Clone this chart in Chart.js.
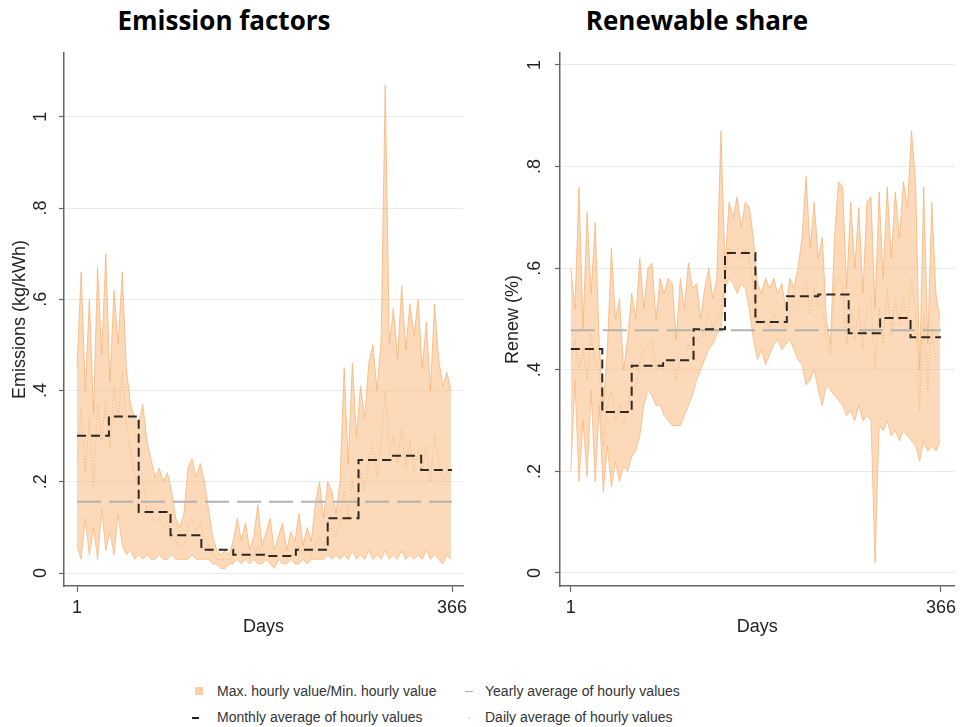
<!DOCTYPE html>
<html>
<head>
<meta charset="utf-8">
<script src="https://cdn.jsdelivr.net/npm/chart.js@4.4.1/dist/chart.umd.min.js"></script>
<style>
  body { margin:0; background:#fff; }
  #wrap { position:relative; width:961px; height:727px; overflow:hidden; font-family:"Liberation Sans", Arial, sans-serif; }
  .ttl { position:absolute; top:7px; width:400px; text-align:center; font:bold 26px/26px "Open Sans", sans-serif; color:#000; }
  canvas { position:absolute; top:40px; }
  .lg { position:absolute; font-size:14px; color:#333; white-space:nowrap; line-height:16px; }
  .mk { position:absolute; }
</style>
</head>
<body>
<div id="wrap">
  <div class="ttl" style="left:24px;">Emission factors</div>
  <div class="ttl" style="left:497px;">Renewable share</div>
  <canvas id="emisChart" width="480" height="610" style="left:0;"></canvas>
  <canvas id="renewChart" width="481" height="610" style="left:480px;"></canvas>

  <div class="mk" style="left:195px;top:687px;width:8px;height:8px;background:#fbcfa6;"></div>
  <div class="lg" style="left:217px;top:683px;">Max. hourly value/Min. hourly value</div>
  <div class="mk" style="left:465px;top:691px;width:8px;height:1px;background:#aaa;"></div>
  <div class="lg" style="left:485px;top:683px;">Yearly average of hourly values</div>
  <div class="mk" style="left:192px;top:717px;width:7px;height:2px;background:#222;"></div>
  <div class="lg" style="left:217px;top:709px;">Monthly average of hourly values</div>
  <div class="mk" style="left:468px;top:717px;width:2px;height:2px;background:#f6dcc4;"></div>
  <div class="lg" style="left:485px;top:709px;">Daily average of hourly values</div>
</div>

<script>
// ── Data ─────────────────────────────────────────────
const DAYS = [1,5,9,13,17,21,25,29,33,37,41,45,49,53,57,61,65,69,73,77,81,85,89,93,97,101,105,109,113,117,121,125,129,133,137,141,145,149,153,157,161,165,169,173,177,181,185,189,193,197,201,205,209,213,217,221,225,229,233,237,241,245,249,253,257,261,265,269,273,277,281,285,289,293,297,301,305,309,313,317,321,325,329,333,337,341,345,349,353,357,361,365];

const EMIS_MAX = [0.45,0.66,0.40,0.60,0.35,0.67,0.48,0.70,0.42,0.62,0.50,0.66,
  0.45,0.37,0.34,0.33,0.37,0.29,0.25,0.21,0.23,0.20,0.22,
  0.18,0.12,0.10,0.13,0.23,0.25,0.21,0.24,0.20,0.14,0.08,
  0.05,0.04,0.05,0.04,0.07,0.12,0.07,0.11,0.05,0.08,0.15,0.06,
  0.09,0.12,0.05,0.08,0.11,0.05,0.09,0.07,0.13,0.06,0.10,0.07,
  0.15,0.20,0.12,0.20,0.18,0.13,0.20,0.45,0.24,0.46,0.30,
  0.41,0.34,0.46,0.50,0.40,0.51,1.07,0.50,0.58,0.47,0.63,
  0.49,0.59,0.52,0.60,0.45,0.55,0.40,0.59,0.47,0.41,0.44,0.40];
const EMIS_MIN = [0.06,0.03,0.12,0.04,0.10,0.03,0.14,0.05,0.09,0.04,0.13,0.06,
  0.04,0.05,0.03,0.04,0.03,0.04,0.03,0.03,0.04,0.03,0.03,
  0.04,0.03,0.03,0.03,0.03,0.04,0.03,0.03,0.03,0.03,0.02,
  0.02,0.01,0.01,0.02,0.02,0.03,0.02,0.03,0.02,0.03,0.02,0.02,
  0.03,0.02,0.01,0.03,0.02,0.02,0.03,0.02,0.02,0.03,0.02,0.03,
  0.03,0.03,0.03,0.04,0.03,0.04,0.03,0.04,0.03,0.05,0.03,
  0.04,0.03,0.05,0.03,0.04,0.03,0.05,0.03,0.04,0.03,0.05,
  0.03,0.04,0.03,0.04,0.03,0.05,0.03,0.04,0.03,0.02,0.04,0.03];
const EMIS_DAILY = [0.24,0.36,0.22,0.34,0.19,0.37,0.29,0.38,
  0.27,0.41,0.34,0.44,0.33,0.26,0.22,
  0.19,0.20,0.14,0.13,0.11,0.12,0.10,0.11,
  0.09,0.07,0.06,0.06,0.10,0.12,0.09,0.11,
  0.08,0.06,0.04,0.03,0.03,0.03,0.03,
  0.04,0.05,0.04,0.05,0.03,0.04,0.06,0.03,
  0.04,0.05,0.03,0.04,0.05,0.03,0.04,0.04,
  0.06,0.04,0.05,0.04,0.06,0.08,0.06,
  0.09,0.10,0.08,0.11,0.18,0.12,0.20,0.14,
  0.22,0.18,0.25,0.28,0.21,0.29,0.40,0.26,
  0.30,0.24,0.32,0.23,0.29,0.22,0.27,
  0.22,0.28,0.20,0.30,0.24,0.20,0.22,0.21];

const RENEW_MAX = [0.60,0.52,0.76,0.48,0.71,0.55,0.69,0.45,
  0.33,0.44,0.64,0.50,0.54,0.40,0.46,
  0.55,0.50,0.62,0.52,0.60,0.61,0.50,0.58,
  0.55,0.58,0.57,0.46,0.58,0.52,0.61,0.56,
  0.57,0.50,0.56,0.60,0.54,0.58,0.87,
  0.60,0.73,0.70,0.74,0.68,0.73,0.72,0.66,
  0.57,0.55,0.58,0.56,0.58,0.55,0.57,0.52,
  0.58,0.56,0.60,0.66,0.78,0.64,0.73,
  0.62,0.66,0.50,0.45,0.66,0.77,0.76,0.56,
  0.73,0.60,0.72,0.55,0.73,0.74,0.52,0.75,
  0.58,0.76,0.62,0.75,0.66,0.77,0.72,
  0.87,0.77,0.40,0.76,0.45,0.73,0.55,0.50];
const RENEW_MIN = [0.20,0.38,0.18,0.30,0.19,0.36,0.18,0.33,
  0.16,0.25,0.17,0.22,0.18,0.21,0.20,
  0.23,0.24,0.27,0.33,0.36,0.35,0.33,0.33,
  0.31,0.30,0.29,0.29,0.29,0.31,0.33,0.35,
  0.38,0.40,0.42,0.44,0.45,0.47,0.48,
  0.56,0.58,0.57,0.55,0.57,0.56,0.52,0.46,
  0.42,0.44,0.41,0.43,0.45,0.46,0.44,0.45,
  0.46,0.44,0.42,0.41,0.37,0.38,0.40,
  0.36,0.33,0.37,0.36,0.35,0.34,0.33,0.31,
  0.32,0.30,0.33,0.30,0.31,0.30,0.02,0.29,
  0.28,0.30,0.27,0.28,0.26,0.28,0.27,
  0.26,0.25,0.22,0.26,0.24,0.25,0.24,0.26];
const RENEW_DAILY = [0.42,0.46,0.40,0.44,0.38,0.47,0.41,0.40,
  0.25,0.33,0.36,0.30,0.33,0.29,0.32,
  0.38,0.36,0.42,0.44,0.45,0.46,0.40,0.41,
  0.40,0.41,0.42,0.38,0.42,0.42,0.45,0.44,
  0.46,0.46,0.48,0.51,0.48,0.50,0.52,
  0.58,0.64,0.63,0.64,0.62,0.64,0.62,0.56,
  0.50,0.49,0.50,0.48,0.51,0.50,0.49,0.48,
  0.51,0.52,0.53,0.54,0.58,0.51,0.56,
  0.52,0.53,0.45,0.43,0.56,0.58,0.57,0.45,
  0.52,0.46,0.52,0.44,0.52,0.54,0.40,0.52,
  0.45,0.56,0.47,0.54,0.49,0.54,0.50,
  0.58,0.52,0.32,0.51,0.36,0.48,0.42,0.40];

const MONTH_START   = [1,32,61,92,122,153,183,214,245,275,306,336,366];
const EMIS_MONTHLY  = [0.301,0.343,0.134,0.083,0.051,0.040,0.037,0.051,0.120,0.248,0.257,0.226,0.226];
const RENEW_MONTHLY = [0.441,0.317,0.408,0.419,0.480,0.630,0.494,0.545,0.548,0.472,0.502,0.464,0.464];
const YEAR_SPAN     = [1,366];
const EMIS_YEARLY   = [0.156,0.156];
const RENEW_YEARLY  = [0.478,0.478];

const X_TICKS = [1,366];
const Y_TICKS = [0,0.2,0.4,0.6,0.8,1];

// ── Helpers ──────────────────────────────────────────
const pts = (xs, ys) => xs.map((x,i)=>({ x, y: ys[i] }));
const stataNum = v => v===0 ? "0" : v===1 ? "1" : v.toFixed(1).replace(/^0/,"");
const FONT = '"Liberation Sans", Arial, sans-serif';

// y tick labels are drawn rotated like Stata does
const rotatedYTicks = {
  id: "rotatedYTicks",
  afterDraw(chart, args, o) {
    const s = chart.scales.y, ctx = chart.ctx;
    ctx.save();
    ctx.font = "18px " + FONT;
    ctx.fillStyle = "#222";
    ctx.textAlign = "center";
    ctx.textBaseline = "middle";
    s.ticks.forEach(t => {
      ctx.save();
      ctx.translate(o.x, s.getPixelForValue(t.value));
      ctx.rotate(-Math.PI/2);
      ctx.fillText(stataNum(t.value), 0, 0);
      ctx.restore();
    });
    ctx.restore();
  }
};

function bandChart(id, c) {
  return new Chart(document.getElementById(id), {
    type: "line",
    data: {
      datasets: [
        { data: pts(MONTH_START, c.monthly), stepped: true, borderColor: "#2e2822", borderWidth: 2,
          borderDash: [9,5], pointRadius: 0, fill: false },
        { data: pts(YEAR_SPAN, c.yearly), borderColor: "#b3b3b3", borderWidth: 2,
          borderDash: [24,8], pointRadius: 0, fill: false },
        { data: pts(DAYS, c.daily), borderColor: "rgba(232,150,80,0.55)", borderWidth: 1,
          borderDash: [1,2], pointRadius: 0, fill: false },
        { data: pts(DAYS, c.max), borderColor: "rgba(246,172,105,0.85)", borderWidth: 0.8,
          backgroundColor: "rgba(249,185,125,0.55)", pointRadius: 0, fill: "+1" },
        { data: pts(DAYS, c.min), borderColor: "rgba(246,172,105,0.85)", borderWidth: 0.8,
          pointRadius: 0, fill: false },
      ]
    },
    options: {
      responsive: false, animation: false,
      layout: { padding: { top: 13, right: c.padRight, left: 0, bottom: 0 } },
      plugins: { legend: { display: false }, tooltip: { enabled: false },
                 rotatedYTicks: { x: c.tickX } },
      scales: {
        x: {
          type: "linear", min: c.xMin, max: c.xMax,
          afterBuildTicks: s => { s.ticks = X_TICKS.map(v=>({ value: v })); },
          afterFit: s => { s.height = 64; },
          ticks: { autoSkip: false, maxRotation: 0, padding: 5, color: "#222",
                   font: { family: FONT, size: 18 }, callback: v => String(v) },
          grid: { drawOnChartArea: false, tickLength: 6, tickColor: "#666", tickWidth: 1.2 },
          border: { color: "#666", width: 1.5 },
          title: { display: true, text: "Days", color: "#222", font: { family: FONT, size: 18 },
                   padding: { top: 0, bottom: 12 } }
        },
        y: {
          min: c.yMin, max: c.yMax,
          afterBuildTicks: s => { s.ticks = Y_TICKS.map(v=>({ value: v })); },
          afterFit: s => { s.width = c.yWidth; },
          ticks: { display: false },
          grid: { color: "#e8ecef", lineWidth: 1, tickLength: 5, tickColor: "#666", tickWidth: 1.2 },
          border: { color: "#666", width: 1.5 },
          title: { display: true, text: c.yTitle, color: "#222", font: { family: FONT, size: 18 },
                   padding: { top: c.titlePad, bottom: 0 } }
        }
      }
    },
    plugins: [rotatedYTicks]
  });
}

bandChart("emisChart", {
  max: EMIS_MAX, min: EMIS_MIN, daily: EMIS_DAILY, monthly: EMIS_MONTHLY, yearly: EMIS_YEARLY,
  xMin: -11.7, xMax: 376.7, yMin: -0.0285, yMax: 1.14,
  yWidth: 64, padRight: 17, tickX: 41, titlePad: 9, yTitle: "Emissions (kg/kWh)"
});
bandChart("renewChart", {
  max: RENEW_MAX, min: RENEW_MIN, daily: RENEW_DAILY, monthly: RENEW_MONTHLY, yearly: RENEW_YEARLY,
  xMin: -9.7, xMax: 379.6, yMin: -0.0256, yMax: 1.0236,
  yWidth: 80, padRight: 1, tickX: 55, titlePad: 22, yTitle: "Renew (%)"
});
</script>
</body>
</html>
